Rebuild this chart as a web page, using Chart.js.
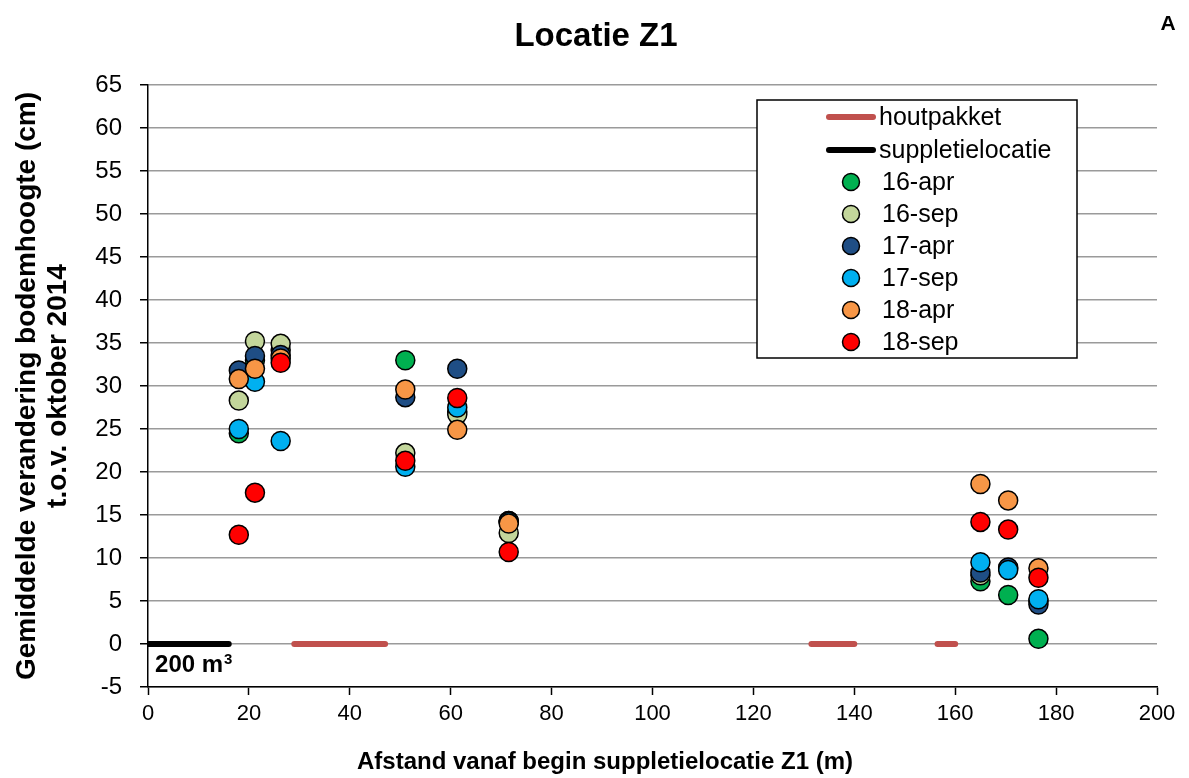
<!DOCTYPE html>
<html>
<head>
<meta charset="utf-8">
<script src="https://cdn.jsdelivr.net/npm/chart.js@4.4.0/dist/chart.umd.min.js"></script>
<style>
  html, body { margin: 0; padding: 0; background: #fff; }
  #wrap { width: 1189px; height: 778px; }
</style>
</head>
<body>
<div id="wrap"><canvas id="chart"></canvas></div>
<script>
// Meetraaien langs suppletielocatie Z1 (afstand vanaf begin, m)
const distances = [18, 21.2, 26.3, 51, 61.3, 71.5, 165, 170.5, 176.5];

// Gemiddelde verandering bodemhoogte (cm) per opname
const surveyNames = ['16-apr', '16-sep', '17-apr', '17-sep', '18-apr', '18-sep'];
const apr16 = [24.5, 33.0, 34.2, 33.0, 27.0, 14.3, 7.3, 5.7, 0.6];
const sep16 = [28.3, 35.2, 34.9, 22.2, 26.7, 12.9, 8.0, 8.8, 5.0];
const apr17 = [31.8, 33.5, 33.6, 28.7, 32.0, 14.3, 8.3, 8.9, 4.6];
const sep17 = [25.0, 30.5, 23.6, 20.6, 27.5, 14.2, 9.5, 8.6, 5.2];
const apr18 = [30.8, 32.0, 33.2, 29.6, 24.9, 14.0, 18.6, 16.7, 8.8];
const sep18 = [12.7, 17.6, 32.7, 21.3, 28.6, 10.7, 14.2, 13.3, 7.7];
const surveyColors = ['#00B050', '#C3D69B', '#1F4E85', '#00B0F0', '#F79646', '#FF0000'];

// Houtpakketten en suppletie langs de nullijn (begin/eind in m)
const houtStart = [29, 131.5, 156.5];
const houtEnd = [47, 140, 160];
const supplStart = [0];
const supplEnd = [16];

const chartTitle = 'Locatie Z1';
const xTitle = 'Afstand vanaf begin suppletielocatie Z1 (m)';
const yTitle = ['Gemiddelde verandering bodemhoogte (cm)', 't.o.v. oktober 2014'];

const FONT = "'Liberation Sans', Arial, sans-serif";

function segments(starts, ends) {
    const pts = [];
    starts.forEach((s, i) => {
        if (i > 0) pts.push({ x: s, y: null });
        pts.push({ x: s, y: 0 }, { x: ends[i], y: 0 });
    });
    return pts;
}

const seriesValues = [apr16, sep16, apr17, sep17, apr18, sep18];

const datasets = [
    {
        label: 'houtpakket',
        data: segments(houtStart, houtEnd),
        showLine: true,
        borderColor: '#C0504D',
        borderWidth: 6,
        borderCapStyle: 'round',
        pointRadius: 0,
        spanGaps: false,
        order: 10
    },
    {
        label: 'suppletielocatie',
        data: segments(supplStart, supplEnd),
        showLine: true,
        borderColor: '#000000',
        borderWidth: 6,
        borderCapStyle: 'round',
        pointRadius: 0,
        order: 9
    }
];

seriesValues.forEach((vals, i) => {
    datasets.push({
        label: surveyNames[i],
        data: vals.map((v, j) => ({ x: distances[j], y: v })),
        backgroundColor: surveyColors[i],
        borderColor: '#000000',
        borderWidth: 1.5,
        pointRadius: 9.5,
        // later surveys are drawn on top
        order: 6 - i
    });
});

// Legend in a framed box, top right of the plot
const boxLegend = {
    id: 'boxLegend',
    afterDraw(chart) {
        const ctx = chart.ctx;
        const x0 = 757, y0 = 100, w = 320, h = 258;
        ctx.save();
        ctx.fillStyle = '#fff';
        ctx.fillRect(x0, y0, w, h);
        ctx.strokeStyle = '#000';
        ctx.lineWidth = 1.5;
        ctx.strokeRect(x0, y0, w, h);
        ctx.font = '25px ' + FONT;
        ctx.textBaseline = 'middle';
        ctx.textAlign = 'left';
        const rowY = [117, 150, 182, 214, 246, 278, 310, 342];
        chart.data.datasets.forEach((ds, i) => {
            const y = rowY[i];
            if (ds.showLine) {
                ctx.strokeStyle = ds.borderColor;
                ctx.lineWidth = 6;
                ctx.lineCap = 'round';
                ctx.beginPath();
                ctx.moveTo(829, y);
                ctx.lineTo(873, y);
                ctx.stroke();
            } else {
                ctx.beginPath();
                ctx.arc(851, y, 8.5, 0, Math.PI * 2);
                ctx.fillStyle = ds.backgroundColor;
                ctx.fill();
                ctx.strokeStyle = '#000';
                ctx.lineWidth = 1.5;
                ctx.stroke();
            }
            ctx.fillStyle = '#000';
            ctx.fillText(ds.label, ds.showLine ? 879 : 882, y + 1);
        });
        ctx.restore();
    }
};

// Titles, volume label under the suppletie and panel letter
const extraText = {
    id: 'extraText',
    afterDraw(chart) {
        const ctx = chart.ctx;
        const xs = chart.scales.x, ys = chart.scales.y;
        ctx.save();
        ctx.fillStyle = '#000';
        ctx.textBaseline = 'middle';

        ctx.textAlign = 'center';
        ctx.font = 'bold 33px ' + FONT;
        ctx.fillText(chartTitle, 596, 37);
        ctx.font = 'bold 24px ' + FONT;
        ctx.fillText(xTitle, 605, 762);
        ctx.font = 'bold 21px ' + FONT;
        ctx.fillText('A', 1168, 24);

        // 200 m³ with raised exponent
        ctx.textAlign = 'left';
        const lx = xs.getPixelForValue(1.4), ly = ys.getPixelForValue(-2.5);
        ctx.font = 'bold 24px ' + FONT;
        ctx.fillText('200 m', lx, ly);
        const w = ctx.measureText('200 m').width;
        ctx.font = 'bold 15px ' + FONT;
        ctx.fillText('3', lx + w + 1, ly - 6);
        ctx.restore();
    }
};

new Chart(document.getElementById('chart'), {
    type: 'scatter',
    data: { datasets: datasets },
    options: {
        responsive: true,
        maintainAspectRatio: false,
        animation: false,
        layout: { padding: { left: 0, right: 32, top: 85, bottom: 0 } },
        plugins: {
            legend: { display: false },
            tooltip: { enabled: false },
            title: { display: false }
        },
        scales: {
            x: {
                type: 'linear',
                min: 0,
                max: 200,
                ticks: {
                    stepSize: 20,
                    color: '#000',
                    padding: 6,
                    maxRotation: 0,
                    font: { family: FONT, size: 22 }
                },
                grid: {
                    drawOnChartArea: false,
                    drawTicks: true,
                    tickLength: 8,
                    tickColor: '#000',
                    tickWidth: 1.5
                },
                border: { display: true, color: '#000', width: 1.5 },
                afterFit(scale) { scale.height = 91; }
            },
            y: {
                type: 'linear',
                min: -5,
                max: 65,
                ticks: {
                    stepSize: 5,
                    color: '#000',
                    padding: 18,
                    font: { family: FONT, size: 24 }
                },
                grid: {
                    color: '#9A9A9A',
                    lineWidth: 1.5,
                    tickLength: 8,
                    tickColor: '#000',
                    tickWidth: 1.5
                },
                border: { display: true, color: '#000', width: 1.5 },
                title: {
                    display: true,
                    text: yTitle,
                    color: '#000',
                    font: { family: FONT, size: 28, weight: 'bold', lineHeight: 1.1 },
                    padding: { top: 12, bottom: 0 }
                },
                afterFit(scale) { scale.width = 148; }
            }
        }
    },
    plugins: [boxLegend, extraText]
});
</script>
</body>
</html>
